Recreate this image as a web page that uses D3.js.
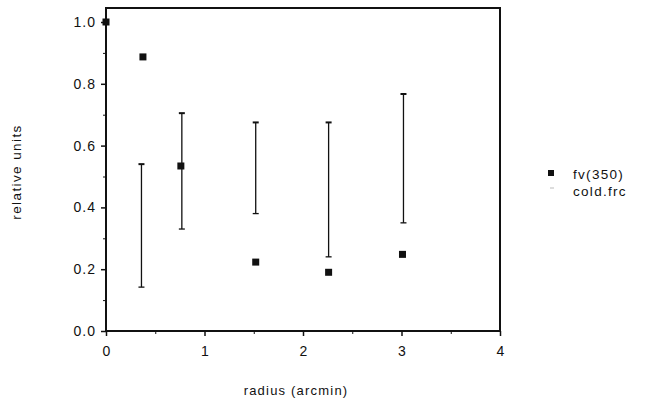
<!DOCTYPE html>
<html><head><meta charset="utf-8">
<script src="https://cdn.jsdelivr.net/npm/d3@7"></script>
<style>body{margin:0;background:#fff}svg{display:block}text{font-family:"Liberation Sans",Arial,sans-serif;fill:#111}</style>
</head><body>
<svg id="c" width="662" height="404"></svg>
<script>
const pointX = [0, 0.375, 0.76, 1.52, 2.26, 3.01];
const pointY = [1.0, 0.887, 0.534, 0.223, 0.19, 0.248];
const barX = [0.36, 0.77, 1.52, 2.26, 3.02];
const barLow = [0.142, 0.33, 0.38, 0.24, 0.35];
const barHigh = [0.54, 0.705, 0.675, 0.675, 0.767];
const xTicks = [0, 1, 2, 3, 4];
const yTicks = [0, 0.2, 0.4, 0.6, 0.8, 1.0];
const seriesNames = ["fv(350)", "cold.frc"];

const svg = d3.select("#c");
const L = 106, R = 500, T = 8, B = 331;
const x = d3.scaleLinear().domain([0, 4]).range([L, R]);
const y = d3.scaleLinear().domain([0, 1.0]).range([B, 22]);

// frame
svg.append("rect").attr("x", L).attr("y", T).attr("width", R - L).attr("height", B - T)
  .attr("fill", "none").attr("stroke", "#111").attr("stroke-width", 2);

// x axis
const gx = svg.append("g").attr("transform", `translate(0,${B})`)
  .call(d3.axisBottom(x).tickValues(xTicks).tickFormat(d3.format("d")).tickSize(5).tickPadding(10));
gx.select(".domain").remove();
gx.selectAll("line").attr("stroke", "#111").attr("stroke-width", 1.5);
gx.selectAll("text").attr("font-size", 14).attr("fill", "#111").attr("font-family", "Liberation Sans, Arial, sans-serif");
svg.append("g").attr("transform", `translate(0,${B})`)
  .call(d3.axisBottom(x).tickValues([0.5, 1.5, 2.5, 3.5]).tickFormat("").tickSize(3))
  .call(g => g.select(".domain").remove())
  .selectAll("line").attr("stroke", "#111");

// y axis
const gy = svg.append("g").attr("transform", `translate(${L},0)`)
  .call(d3.axisLeft(y).tickValues(yTicks).tickFormat(d3.format(".1f")).tickSize(5).tickPadding(5));
gy.select(".domain").remove();
gy.selectAll("line").attr("stroke", "#111").attr("stroke-width", 1.5);
gy.selectAll("text").attr("font-size", 14).attr("fill", "#111").attr("letter-spacing", 1)
  .attr("font-family", "Liberation Sans, Arial, sans-serif");
svg.append("g").attr("transform", `translate(${L},0)`)
  .call(d3.axisLeft(y).tickValues([0.1, 0.3, 0.5, 0.7, 0.9]).tickFormat("").tickSize(3))
  .call(g => g.select(".domain").remove())
  .selectAll("line").attr("stroke", "#111");

// axis titles
svg.append("text").attr("x", 296).attr("y", 395).attr("text-anchor", "middle")
  .attr("font-size", 13).attr("letter-spacing", 1.2).text("radius (arcmin)");
svg.append("text").attr("transform", "translate(21,172) rotate(-90)").attr("text-anchor", "middle")
  .attr("font-size", 13.5).attr("letter-spacing", 1.4).text("relative units");

// error bars
const bars = barX.map((d, i) => ({x: d, lo: barLow[i], hi: barHigh[i]}));
const eb = svg.append("g").attr("stroke", "#111");
eb.selectAll("line.v").data(bars).join("line").attr("class", "v")
  .attr("x1", d => x(d.x)).attr("x2", d => x(d.x))
  .attr("y1", d => y(d.lo)).attr("y2", d => y(d.hi)).attr("stroke-width", 1.3);
eb.selectAll("line.t").data(bars).join("line").attr("class", "t")
  .attr("x1", d => x(d.x) - 3).attr("x2", d => x(d.x) + 3)
  .attr("y1", d => y(d.hi)).attr("y2", d => y(d.hi)).attr("stroke-width", 2);
eb.selectAll("line.b").data(bars).join("line").attr("class", "b")
  .attr("x1", d => x(d.x) - 3).attr("x2", d => x(d.x) + 3)
  .attr("y1", d => y(d.lo)).attr("y2", d => y(d.lo)).attr("stroke-width", 1.3);

// points
const pts = pointX.map((d, i) => ({x: d, y: pointY[i]}));
svg.append("g").selectAll("rect").data(pts).join("rect")
  .attr("x", d => x(d.x) - 3.5).attr("y", d => y(d.y) - 3.5)
  .attr("width", 7).attr("height", 7).attr("fill", "#111");

// legend
svg.append("rect").attr("x", 548).attr("y", 170).attr("width", 6).attr("height", 6).attr("fill", "#111");
svg.append("text").attr("x", 573).attr("y", 179).attr("font-size", 13.5).attr("letter-spacing", 1.3).text(seriesNames[0]);
svg.append("line").attr("x1", 550).attr("x2", 554).attr("y1", 188).attr("y2", 188).attr("stroke", "#bbb");
svg.append("text").attr("x", 573).attr("y", 196).attr("font-size", 13.5).attr("letter-spacing", 1.3).text(seriesNames[1]);
</script>
</body></html>
